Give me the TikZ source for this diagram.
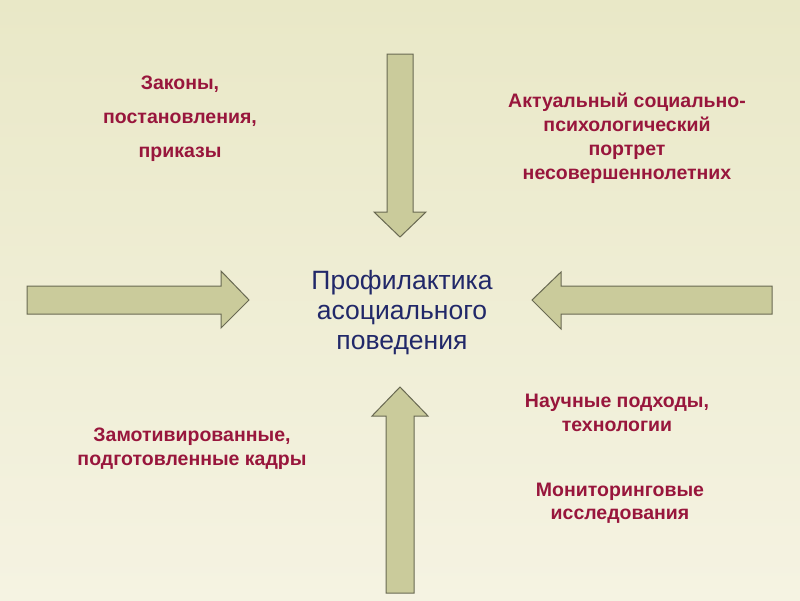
\documentclass[tikz,border=0pt]{standalone}
\usepackage{fontspec}
\setmainfont{Liberation Sans}
\definecolor{bgtop}{RGB}{233,232,199}
\definecolor{bgbot}{RGB}{245,243,226}
\definecolor{arrowfill}{RGB}{202,203,155}
\definecolor{arrowline}{RGB}{105,105,82}
\definecolor{crimson}{RGB}{152,22,60}
\definecolor{navy}{RGB}{33,40,105}
\begin{document}
\begin{tikzpicture}[x=1pt,y=-1pt,line join=miter,
		bigarrow/.style={fill=arrowfill,draw=arrowline,line width=1pt},
		label/.style={text=crimson,font=\fontsize{19.5}{24}\selectfont\bfseries,align=center,inner sep=0pt}]
	\shade[top color=bgtop,bottom color=bgbot] (0,0) rectangle (800,600);
	\useasboundingbox (0,0) rectangle (800,600);
	% arrows
	\draw[bigarrow] (387,54)--(413,54)--(413,212)--(426,212)--(400,237)--(374,212)--(387,212)--cycle;
	\draw[bigarrow] (386,593)--(414,593)--(414,416)--(428,416)--(400,387)--(372,416)--(386,416)--cycle;
	\draw[bigarrow] (27,286)--(221,286)--(221,271)--(249,300)--(221,328)--(221,314)--(27,314)--cycle;
	\draw[bigarrow] (772,286)--(561,286)--(561,272)--(532,300)--(561,329)--(561,314)--(772,314)--cycle;
	% texts
	\node[text=navy,font=\fontsize{26.5}{30}\selectfont,align=center,inner sep=0pt] (center) at (402,313) {Профилактика\\асоциального\\поведения};
	\node[label] (laws) at (180,119) {Законы,\\[10pt]постановления,\\[10pt]приказы};
	\node[label] (portrait) at (627,138) {Актуальный социально-\\психологический\\портрет\\несовершеннолетних};
	\node[label,font=\fontsize{19.5}{24}\selectfont\bfseries] (staff) at (192,449) {Замотивированные,\\подготовленные кадры};
	\node[label,font=\fontsize{19.5}{23.5}\selectfont\bfseries] (science) at (617,413) {Научные подходы,\\технологии};
	\node[label,font=\fontsize{19.5}{23.5}\selectfont\bfseries] (monitor) at (620,503) {Мониторинговые\\исследования};
\end{tikzpicture}
\end{document}
